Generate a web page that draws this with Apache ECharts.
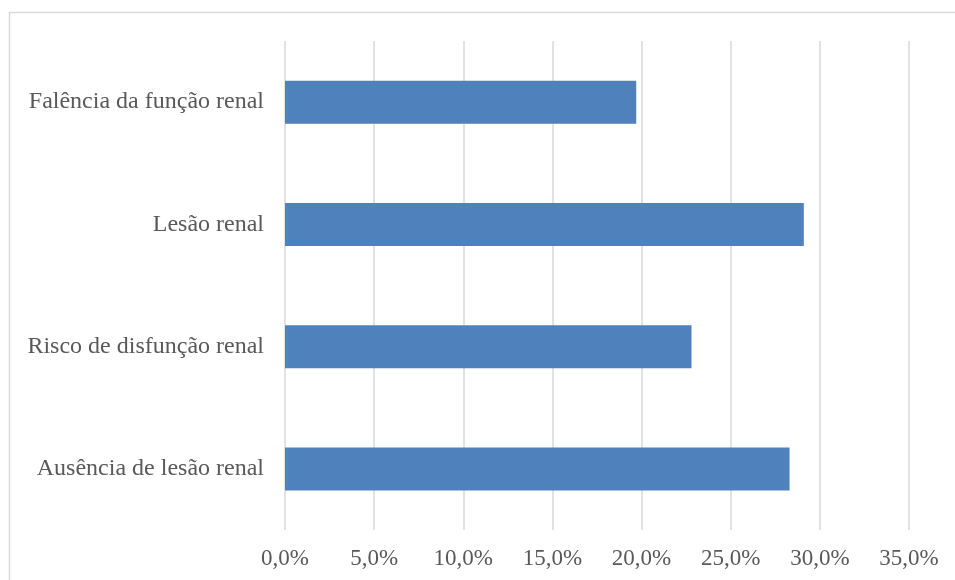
<!DOCTYPE html>
<html><head><meta charset="utf-8">
<script src="https://cdn.jsdelivr.net/npm/echarts@6/dist/echarts.min.js"></script>
<style>html,body{margin:0;padding:0;background:#fff}#c{width:955px;height:580px}</style>
</head><body><div id="c"></div>
<script>
const categories = ['Ausência de lesão renal', 'Risco de disfunção renal', 'Lesão renal', 'Falência da função renal'];
const values = [28.3, 22.8, 29.1, 19.7];
const axisMin = 0, axisMax = 35, axisStep = 5;

const chart = echarts.init(document.getElementById('c'), null, {renderer: 'canvas'});
chart.setOption({
  animation: false,
  backgroundColor: '#ffffff',
  graphic: [{
    type: 'rect', silent: true,
    shape: {x: 9.5, y: 12.5, width: 960, height: 600},
    style: {fill: 'none', stroke: '#d9d9d9', lineWidth: 1.5}
  }],
  grid: {left: 285, right: 46, top: 41, bottom: 50, containLabel: false},
  xAxis: {
    type: 'value', min: axisMin, max: axisMax, interval: axisStep,
    axisLine: {show: false}, axisTick: {show: false},
    splitLine: {show: true, lineStyle: {color: '#d9d9d9', width: 1.5}},
    axisLabel: {
      margin: 17, color: '#595959', fontFamily: 'Liberation Serif', fontSize: 23,
      formatter: v => v.toFixed(1).replace('.', ',') + '%'
    }
  },
  yAxis: {
    type: 'category', data: categories,
    axisLine: {show: false}, axisTick: {show: false},
    axisLabel: {margin: 21, color: '#595959', fontFamily: 'Liberation Serif', fontSize: 24}
  },
  series: [{
    type: 'bar', data: values, barWidth: 43,
    itemStyle: {color: '#4f81bd'}
  }]
});
</script></body></html>
